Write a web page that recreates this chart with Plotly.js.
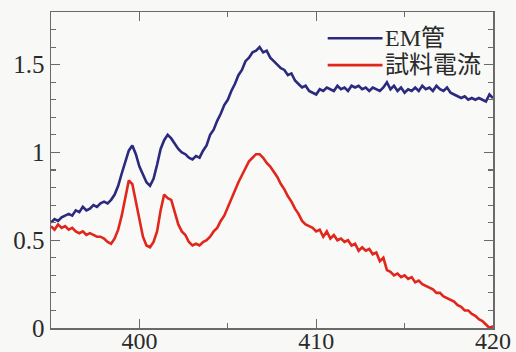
<!DOCTYPE html>
<html>
<head>
<meta charset="utf-8">
<script src="https://cdn.plot.ly/plotly-3.0.1.min.js"></script>
<style>html,body{margin:0;padding:0;background:#f8f8f6;}#chart{width:516px;height:352px;}</style>
</head>
<body>
<div id="chart"></div>
<script>
// wavelength grid: 395.0 .. 420.0 nm, sampled every 0.2 nm
const xStart = 395.0;
const xStep = 0.2;
const seriesNames = ["EM管", "試料電流"];

const emTube = [
  0.60,0.62,0.61,0.63,0.64,0.65,0.64,0.67,0.66,0.69,
  0.67,0.68,0.70,0.69,0.71,0.72,0.71,0.73,0.76,0.81,
  0.88,0.95,1.01,1.04,0.99,0.92,0.87,0.83,0.81,0.85,
  0.93,1.02,1.07,1.10,1.08,1.05,1.02,1.00,0.99,0.97,
  0.96,0.98,0.97,1.01,1.04,1.10,1.13,1.18,1.22,1.27,
  1.30,1.35,1.39,1.44,1.47,1.52,1.54,1.57,1.58,1.60,
  1.57,1.58,1.54,1.52,1.50,1.48,1.47,1.44,1.45,1.41,
  1.39,1.37,1.38,1.35,1.34,1.33,1.36,1.35,1.37,1.36,
  1.35,1.38,1.36,1.37,1.35,1.38,1.37,1.38,1.36,1.37,
  1.35,1.37,1.36,1.35,1.37,1.40,1.36,1.38,1.35,1.37,
  1.34,1.36,1.35,1.37,1.35,1.38,1.36,1.37,1.35,1.38,
  1.36,1.35,1.37,1.34,1.33,1.32,1.31,1.32,1.30,1.31,
  1.30,1.31,1.30,1.29,1.33,1.31
];

const sampleCurrent = [
  0.58,0.56,0.59,0.57,0.58,0.56,0.57,0.55,0.54,0.55,
  0.53,0.54,0.53,0.52,0.52,0.51,0.49,0.48,0.51,0.56,
  0.64,0.75,0.84,0.82,0.72,0.61,0.52,0.47,0.46,0.49,
  0.55,0.67,0.76,0.74,0.73,0.66,0.59,0.55,0.53,0.49,
  0.47,0.48,0.47,0.49,0.50,0.52,0.55,0.57,0.61,0.64,
  0.69,0.74,0.78,0.83,0.87,0.91,0.95,0.97,0.99,0.99,
  0.97,0.94,0.92,0.89,0.86,0.82,0.79,0.75,0.72,0.68,
  0.65,0.61,0.59,0.58,0.57,0.55,0.56,0.52,0.55,0.51,
  0.53,0.50,0.51,0.49,0.50,0.47,0.48,0.44,0.46,0.44,
  0.45,0.42,0.43,0.38,0.40,0.33,0.32,0.30,0.31,0.29,
  0.30,0.28,0.29,0.26,0.27,0.25,0.24,0.23,0.22,0.20,
  0.20,0.18,0.17,0.16,0.15,0.13,0.12,0.10,0.10,0.08,
  0.07,0.05,0.04,0.02,0.00,0.01
];

const xTickVals = [400, 410, 420];
const yTickVals = [0, 0.5, 1, 1.5];

const wavelength = emTube.map((_, i) => +(xStart + i * xStep).toFixed(1));

const blue = '#2b2a7e';
const red = '#e1261c';
const axisCol = '#6a6a6a';
const serif = '"Liberation Serif", "Times New Roman", "Noto Sans CJK JP", serif';

const traces = [
  {x: wavelength, y: emTube, name: seriesNames[0], type: 'scatter', mode: 'lines',
   line: {color: blue, width: 2.6}},
  {x: wavelength, y: sampleCurrent, name: seriesNames[1], type: 'scatter', mode: 'lines',
   line: {color: red, width: 2.6}}
];

const axisCommon = {
  showgrid: false, zeroline: false, showline: true, linecolor: axisCol, linewidth: 1.5,
  mirror: 'ticks', ticks: 'inside', ticklen: 9, tickwidth: 1.3, tickcolor: axisCol,
  tickfont: {family: serif, size: 25, color: '#2a2a2a'}
};

const layout = {
  width: 516, height: 352,
  margin: {l: 51, r: 23, t: 12, b: 24},
  paper_bgcolor: '#f8f8f6', plot_bgcolor: '#f9f9f7',
  showlegend: false,
  xaxis: Object.assign({}, axisCommon, {
    range: [395, 420], tickvals: xTickVals, ticktext: xTickVals.map(String),
    ticklabelstandoff: -9,
    tickfont: {family: serif, size: 24, color: '#2a2a2a'},
    minor: {tickvals: [405, 415], ticks: 'inside', ticklen: 5, tickwidth: 1.2, tickcolor: axisCol}
  }),
  yaxis: Object.assign({}, axisCommon, {
    range: [0, 1.8], tickvals: yTickVals, ticktext: yTickVals.map(String),
    minor: {dtick: 0.1, tick0: 0, ticks: 'inside', ticklen: 5, tickwidth: 1.2, tickcolor: axisCol}
  }),
  shapes: [
    {type: 'line', xref: 'paper', yref: 'paper', x0: 0.626, x1: 0.75, y0: 0.917, y1: 0.917,
     line: {color: blue, width: 2.6}},
    {type: 'line', xref: 'paper', yref: 'paper', x0: 0.626, x1: 0.75, y0: 0.832, y1: 0.832,
     line: {color: red, width: 2.6}}
  ],
  annotations: [
    {xref: 'paper', yref: 'paper', x: 0.75, y: 0.917, xanchor: 'left', yanchor: 'middle',
     text: seriesNames[0], showarrow: false, font: {family: serif, size: 24, color: '#2a2a2a'}},
    {xref: 'paper', yref: 'paper', x: 0.75, y: 0.832, xanchor: 'left', yanchor: 'middle',
     text: seriesNames[1], showarrow: false, font: {family: serif, size: 24, color: '#2a2a2a'}}
  ]
};

Plotly.newPlot('chart', traces, layout, {displayModeBar: false, staticPlot: true});
</script>
</body>
</html>
